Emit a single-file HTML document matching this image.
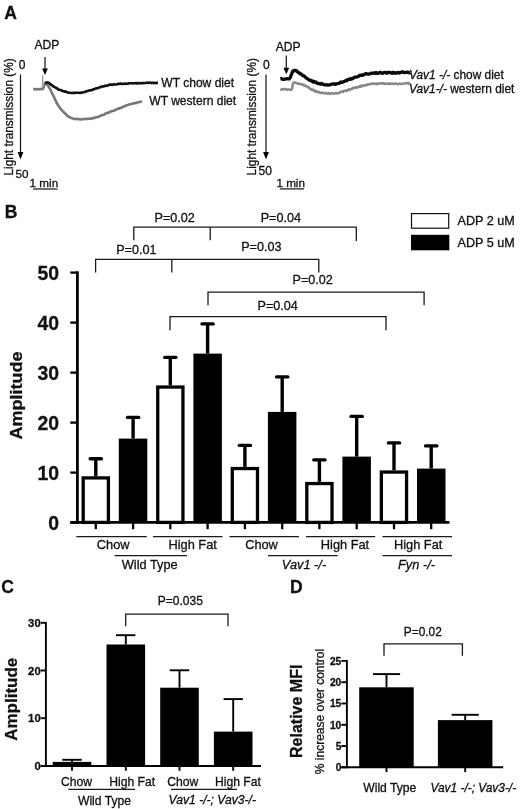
<!DOCTYPE html>
<html lang="en">
<head>
<meta charset="utf-8">
<title>Figure</title>
<style>
html,body{margin:0;padding:0;background:#fff}
body{width:520px;height:809px;overflow:hidden}
svg{display:block;filter:blur(0.35px);font-family:"Liberation Sans",sans-serif;fill:#111}
.pl{font-weight:bold;font-size:17.5px}
.ta,.tb,.tc,.td,.tp,.tx{stroke:#111;stroke-width:0.3px}
.ta{font-size:12.05px}
.tl{font-size:11.87px;stroke:#111;stroke-width:0.3px}
.tm{font-size:11.7px;stroke:#111;stroke-width:0.3px}
.tb{font-size:11.9px}
.tc{font-size:12.15px}
.td{font-size:12px}
.tp{font-size:12.6px}
.tx{font-size:12.8px}
.i{font-style:italic}
.k{fill:#000}
.l1{stroke:#1a1a1a;stroke-width:1.25;fill:none}
.br{stroke:#1a1a1a;stroke-width:1.3;fill:none}
.ax{stroke:#000;stroke-width:2.8;fill:none}
.tkb{stroke:#000;stroke-width:2.3;fill:none}
.eb{stroke:#000;stroke-width:3.4;fill:none}
.ec{stroke:#000;stroke-width:3.4;fill:none;stroke-linecap:round}
.ax2{stroke:#000;stroke-width:1.9;fill:none}
.wb{fill:#fff;stroke:#000;stroke-width:3.3}
.sp{stroke:#999;stroke-width:1;fill:none}
.tg{stroke:#777;stroke-width:2.6;fill:none;stroke-linejoin:round}
.tg2{stroke:#888;stroke-width:2.5;fill:none;stroke-linejoin:round}
.tk{stroke:#111;stroke-width:2.6;fill:none;stroke-linejoin:round}
.tk2{stroke:#0a0a0a;stroke-width:3.3;fill:none;stroke-linejoin:round}
.bt,.bl,.ct,.cl,.dt,.dl,.pl{stroke:#111;stroke-width:0.3px}
.bt{font-weight:bold;font-size:19.4px}
.bl{font-weight:bold;font-size:18px}
.ct{font-weight:bold;font-size:11.3px}
.cl{font-weight:bold;font-size:17px}
.dt{font-weight:bold;font-size:10.2px}
.dl{font-weight:bold;font-size:16px}
</style>
</head>
<body>
<svg width="520" height="809" viewBox="0 0 520 809">
<rect width="520" height="809" fill="#fff"/>
<g>
<text class="pl" x="4.3" y="19">A</text>
<text x="34.5" y="49.3" class="ta">ADP</text>
<line x1="45" y1="57" x2="45" y2="70" class="l1"/><path d="M42.1 68.6 L45 75 L47.9 68.6 Z" class="k"/>
<text x="18.8" y="69.3" class="ta">0</text>
<line x1="20.5" y1="74.5" x2="20.5" y2="155" class="l1"/><path d="M17.6 152 L20.5 159.5 L23.4 152 Z" class="k"/>
<text x="15.6" y="177.5" class="tm">50</text>
<text class="tl" transform="translate(13.1 175.6) rotate(-90)">Light transmission (%)</text>
<text x="29.6" y="186.9" class="tm">1 min</text>
<line x1="33" y1="189" x2="57.5" y2="189" class="l1"/>
<polyline points="33.3,89.3 34.2,89.1 35.4,89.5 36.8,89.0 38.0,89.3 39.1,89.2 40.2,89.0 41.2,89.3 42.0,88.9 42.8,89.0 43.3,88.2 43.6,87.2 44.0,86.1 44.3,85.2 44.9,83.6 45.5,83.1 46.0,83.1 47.0,84.3 47.3,84.5 47.7,85.0 48.1,86.1 48.5,86.2 49.0,87.6 49.5,88.1 50.0,88.9 50.5,89.8 51.0,90.9 51.5,92.3 52.0,92.8 52.4,93.8 52.8,94.7 53.2,95.3 53.6,96.3 54.0,96.9 54.4,97.8 54.9,98.8 55.3,100.1 55.7,100.8 56.2,101.6 56.6,102.7 57.1,103.4 57.5,104.1 58.0,105.2 58.6,106.0 59.1,106.5 59.7,107.5 60.3,108.3 60.9,109.3 61.5,109.9 62.1,110.3 62.7,111.4 63.3,111.5 63.9,112.3 64.4,113.1 65.0,113.3 65.7,114.2 66.4,114.5 67.1,115.5 67.7,116.1 68.4,116.4 69.0,117.0 69.7,117.0 70.3,117.6 71.0,117.9 72.0,118.2 72.9,118.4 73.9,118.9 74.9,119.1 75.9,118.9 77.0,119.1 77.9,118.8 78.9,119.3 79.9,119.3 80.9,119.5 82.0,119.4 83.0,119.0 84.0,119.0 85.0,119.2 86.0,118.7 87.0,119.0 88.0,118.8 89.0,118.7 90.0,118.5 91.0,118.9 92.0,118.2 92.8,118.1 93.7,118.0 94.5,118.1 95.4,117.3 96.3,117.3 97.1,117.0 98.1,117.0 99.0,116.6 100.0,116.3 100.8,115.6 101.6,115.4 102.4,115.0 103.2,115.0 104.0,114.8 104.9,113.8 105.7,113.5 106.6,113.2 107.5,112.8 108.3,112.7 109.2,112.4 110.0,111.8 110.8,111.3 111.7,111.3 112.5,110.9 113.3,110.7 114.2,110.6 115.0,110.1 115.8,109.6 116.7,109.4 117.5,109.1 118.3,108.3 119.2,108.6 120.0,108.2 120.8,107.9 121.7,107.6 122.5,107.0 123.4,106.7 124.3,106.2 125.1,106.2 126.0,105.5 126.8,105.2 127.6,105.1 128.4,104.8 129.2,104.6 130.0,104.2 131.0,103.9 132.0,103.7 133.0,103.4 133.9,103.4 134.8,102.9 135.7,103.3 136.5,102.9 137.3,102.4 138.0,102.3 139.4,102.1 140.5,101.8 141.4,101.5 142.0,101.6" class="tg"/>
<polyline points="42.2,88.5 42.7,75.3 43.2,87" class="sp"/>
<polyline points="45.2,83.8 45.8,83.3 46.5,82.4 47.2,82.4 48.0,82.5 48.7,82.9 50.0,83.9 50.6,84.2 51.2,85.1 51.9,85.1 52.7,85.6 53.5,86.8 54.3,87.0 55.2,87.3 56.0,88.0 56.7,88.1 57.5,88.8 58.3,89.5 59.0,89.7 59.8,90.0 60.6,90.0 61.4,90.4 62.2,90.5 63.0,91.2 63.9,91.3 64.8,91.7 65.6,91.6 66.5,91.8 67.4,92.4 68.2,92.7 69.1,92.7 70.0,92.8 71.0,93.0 72.0,93.0 73.0,92.7 74.0,93.0 75.0,92.9 76.0,92.7 77.0,92.7 78.0,92.8 79.0,92.7 79.9,92.9 80.9,92.9 81.9,92.4 82.9,92.5 84.0,92.3 84.8,92.1 85.7,91.5 86.6,91.2 87.5,90.9 88.4,90.7 89.3,90.4 90.2,90.4 91.1,90.3 92.0,90.0 92.9,89.5 93.8,89.3 94.7,89.2 95.6,88.3 96.4,88.4 97.3,88.3 98.2,87.9 99.1,87.6 100.0,87.2 100.9,86.7 101.8,86.9 102.7,86.3 103.6,86.4 104.4,86.3 105.3,85.7 106.2,85.5 107.1,85.7 108.0,85.4 109.0,84.8 110.0,84.6 111.0,84.5 111.9,84.9 112.9,84.7 113.9,84.2 115.0,84.5 116.0,84.5 117.0,84.2 117.9,83.9 118.9,84.0 119.9,83.6 120.9,83.5 121.9,84.1 122.9,83.8 124.0,83.7 125.0,83.9 126.0,83.5 126.9,83.8 127.9,83.7 128.9,83.3 129.9,83.3 131.0,83.3 132.0,83.2 133.0,83.4 134.0,83.2 135.0,83.2 136.0,83.0 137.0,83.5 137.9,83.1 138.9,83.1 139.8,83.2 140.8,83.4 141.8,83.0 142.8,83.3 143.9,83.0 145.0,83.0 145.9,83.0 147.0,82.6 148.1,82.9 149.2,82.7 150.4,82.6 151.5,83.1 152.7,82.7 153.8,82.9 154.9,83.1 155.8,83.0 156.7,82.8 157.4,82.9 158.0,82.9" class="tk"/>
<text x="161.3" y="86.8" class="ta">WT chow diet</text>
<text x="149.3" y="105.1" class="ta">WT western diet</text>
<text x="275.8" y="50.5" class="ta">ADP</text>
<line x1="286.3" y1="55.5" x2="286.3" y2="69" class="l1"/><path d="M283.4 67.8 L286.3 74.2 L289.2 67.8 Z" class="k"/>
<text x="263" y="69.3" class="ta">0</text>
<line x1="266" y1="74.5" x2="266" y2="155" class="l1"/><path d="M263.1 152 L266 159.5 L268.9 152 Z" class="k"/>
<text x="258.6" y="174.5" class="ta">50</text>
<text class="tl" transform="translate(256.3 175.4) rotate(-90)">Light transmission (%)</text>
<text x="276.4" y="186.6" class="tm">1 min</text>
<line x1="279.9" y1="188.9" x2="304" y2="188.9" class="l1"/>
<polyline points="280.3,89.5 281.1,89.7 282.2,88.9 283.5,89.5 284.8,89.1 286.0,89.1 287.2,89.8 288.4,89.5 289.5,89.6 290.5,89.9 291.3,89.9 292.1,88.4 292.3,87.1 292.6,85.6 292.9,84.0 293.3,83.0 294.2,82.4 295.5,82.8 296.6,82.9 297.7,83.7 299.0,83.6 299.9,84.1 300.9,84.4 301.9,83.9 303.0,84.7 303.6,85.4 304.3,85.7 304.9,85.2 305.6,85.7 306.3,86.5 307.1,86.5 308.0,87.2 308.7,87.3 309.4,88.4 310.2,88.9 311.0,89.5 311.8,89.0 312.7,90.1 313.5,90.4 314.4,90.1 315.2,91.4 316.0,91.8 316.9,91.2 317.8,92.3 318.7,91.9 319.6,92.3 320.4,93.1 321.3,93.1 322.2,92.5 323.1,93.0 324.0,93.2 325.0,93.2 326.0,93.1 327.0,93.4 328.0,93.9 329.0,93.1 330.0,93.8 331.0,93.7 332.0,93.1 333.0,93.4 334.0,93.7 335.0,93.4 336.0,92.7 337.0,93.6 338.0,93.2 339.0,93.2 340.0,91.9 340.9,91.9 341.8,91.4 342.7,92.0 343.6,91.1 344.4,90.7 345.3,90.8 346.2,91.1 347.1,90.7 348.0,89.7 348.9,89.3 349.8,89.9 350.7,89.2 351.6,89.1 352.4,88.1 353.3,87.8 354.2,88.2 355.1,87.7 356.0,87.0 356.9,87.8 357.8,87.2 358.7,87.1 359.6,86.0 360.4,86.7 361.3,85.6 362.2,86.3 363.1,85.6 364.0,85.3 365.0,85.4 366.0,85.6 367.0,84.6 368.0,84.3 369.0,84.6 370.0,84.1 371.0,83.8 372.0,83.8 373.0,83.6 373.8,83.7 374.7,83.7 375.6,83.7 376.5,84.2 377.5,83.6 378.7,83.8 380.0,83.4 380.8,83.6 381.6,83.2 382.6,83.5 383.5,83.2 384.5,84.0 385.5,83.8 386.5,83.4 387.6,83.7 388.7,84.2 389.7,83.2 390.8,84.1 391.9,83.6 392.9,83.7 394.0,84.1 395.0,83.6 396.0,83.7 397.1,83.9 398.2,84.3 399.4,83.5 400.6,84.1 401.7,83.9 402.9,83.8 404.0,83.5 405.1,83.4 406.1,83.1 407.1,83.2 408.0,83.1 408.8,83.9 409.4,83.3 410.0,83.6" class="tg2"/>
<polyline points="280.3,78.6 281.2,78.5 282.6,79.4 284.0,79.4 285.0,79.2 286.1,78.8 287.1,78.7 288.0,78.8 289.2,78.9 290.0,77.9 290.4,77.3 290.8,75.8 291.2,75.2 291.6,74.1 292.1,72.6 292.6,71.4 293.1,71.6 293.7,70.4 294.9,70.4 296.5,70.7 297.1,71.5 297.8,72.1 298.5,72.7 299.3,72.9 300.1,73.9 301.0,73.9 301.6,74.6 302.2,74.8 302.9,75.7 303.6,75.7 304.3,76.2 305.0,77.0 305.7,77.4 306.5,78.2 307.2,78.6 308.0,79.3 308.8,79.6 309.5,80.1 310.3,80.6 311.1,80.4 311.9,80.7 312.8,81.9 313.6,81.2 314.4,82.2 315.2,82.4 316.0,82.0 316.9,83.2 317.8,83.5 318.7,83.4 319.6,83.8 320.4,84.1 321.3,83.4 322.2,84.1 323.1,84.2 324.0,84.7 325.0,84.8 326.0,84.9 327.0,84.7 328.0,85.1 329.0,84.9 330.0,84.9 331.0,84.3 332.0,84.0 332.9,84.1 333.8,84.2 334.7,83.7 335.6,84.4 336.4,83.9 337.3,83.7 338.2,83.5 339.1,83.3 340.0,82.8 340.9,81.9 341.8,82.6 342.7,82.2 343.6,81.6 344.4,81.4 345.3,81.2 346.2,80.1 347.1,80.6 348.0,79.7 348.8,79.2 349.6,79.1 350.4,79.4 351.2,78.4 352.0,78.8 352.8,78.7 353.6,77.8 354.4,77.4 355.2,77.2 356.0,77.2 356.9,77.0 357.8,76.6 358.7,76.3 359.6,75.4 360.4,75.2 361.3,75.1 362.2,75.4 363.1,74.7 364.0,74.8 365.0,73.9 366.0,73.7 367.0,73.8 368.0,74.1 369.0,74.0 370.0,73.8 371.0,73.2 372.0,73.3 373.0,73.1 373.8,73.1 374.7,72.6 375.6,73.4 376.5,72.6 377.5,73.4 378.7,73.4 380.0,72.2 380.8,72.7 381.6,73.2 382.6,73.3 383.5,72.7 384.5,72.5 385.5,72.4 386.5,73.3 387.6,72.4 388.7,72.8 389.7,72.3 390.8,72.8 391.9,73.3 392.9,72.3 394.0,73.1 395.0,72.7 396.0,73.2 397.1,72.9 398.2,72.3 399.4,73.1 400.6,72.6 401.7,72.0 402.9,72.0 404.0,72.6 405.1,72.5 406.1,72.3 407.1,72.1 408.0,72.3 408.8,72.3 409.4,72.9 410.0,72.5" class="tk2"/>
<text x="409" y="78.7" class="tb"><tspan class="i">Vav1 -/-</tspan> chow diet</text>
<text x="409" y="92.6" class="tb"><tspan class="i">Vav1-/-</tspan> western diet</text>
</g>
<g>
<text class="pl" x="4.8" y="218.3">B</text>
<line x1="77.4" y1="271.3" x2="77.4" y2="523.8" class="ax"/>
<line x1="70.3" y1="522.4" x2="449.5" y2="522.4" class="ax"/>
<line x1="70.3" y1="522.6" x2="77.4" y2="522.6" class="tkb"/>
<text x="59" y="530.0" class="bt" text-anchor="end">0</text>
<line x1="70.3" y1="472.6" x2="77.4" y2="472.6" class="tkb"/>
<text x="59" y="480.0" class="bt" text-anchor="end">10</text>
<line x1="70.3" y1="422.6" x2="77.4" y2="422.6" class="tkb"/>
<text x="59" y="430.0" class="bt" text-anchor="end">20</text>
<line x1="70.3" y1="372.6" x2="77.4" y2="372.6" class="tkb"/>
<text x="59" y="380.0" class="bt" text-anchor="end">30</text>
<line x1="70.3" y1="322.6" x2="77.4" y2="322.6" class="tkb"/>
<text x="59" y="330.0" class="bt" text-anchor="end">40</text>
<line x1="70.3" y1="272.6" x2="77.4" y2="272.6" class="tkb"/>
<text x="59" y="280.0" class="bt" text-anchor="end">50</text>
<text class="bl" transform="translate(22 395.5) rotate(-90) scale(1 0.94)" text-anchor="middle">Amplitude</text>
<line x1="95.8" y1="476.2" x2="95.8" y2="458.8" class="eb"/>
<line x1="90.2" y1="458.8" x2="101.4" y2="458.8" class="ec"/>
<rect x="83.20" y="477.90" width="25.20" height="44.50" class="wb"/>
<line x1="95.8" y1="522.4" x2="95.8" y2="529.2" class="tkb"/>
<line x1="133.1" y1="438.6" x2="133.1" y2="417.4" class="eb"/>
<line x1="127.5" y1="417.4" x2="138.7" y2="417.4" class="ec"/>
<rect x="118.8" y="438.6" width="28.5" height="83.8" class="k"/>
<line x1="133.1" y1="522.4" x2="133.1" y2="529.2" class="tkb"/>
<line x1="170.3" y1="385.4" x2="170.3" y2="357.4" class="eb"/>
<line x1="164.7" y1="357.4" x2="175.9" y2="357.4" class="ec"/>
<rect x="157.74" y="387.05" width="25.20" height="135.35" class="wb"/>
<line x1="170.3" y1="522.4" x2="170.3" y2="529.2" class="tkb"/>
<line x1="207.6" y1="353.6" x2="207.6" y2="323.9" class="eb"/>
<line x1="202.0" y1="323.9" x2="213.2" y2="323.9" class="ec"/>
<rect x="193.4" y="353.6" width="28.5" height="168.8" class="k"/>
<line x1="207.6" y1="522.4" x2="207.6" y2="529.2" class="tkb"/>
<line x1="244.9" y1="466.9" x2="244.9" y2="445.4" class="eb"/>
<line x1="239.3" y1="445.4" x2="250.5" y2="445.4" class="ec"/>
<rect x="232.28" y="468.55" width="25.20" height="53.85" class="wb"/>
<line x1="244.9" y1="522.4" x2="244.9" y2="529.2" class="tkb"/>
<line x1="282.2" y1="411.9" x2="282.2" y2="376.9" class="eb"/>
<line x1="276.6" y1="376.9" x2="287.8" y2="376.9" class="ec"/>
<rect x="267.9" y="411.9" width="28.5" height="110.5" class="k"/>
<line x1="282.2" y1="522.4" x2="282.2" y2="529.2" class="tkb"/>
<line x1="319.4" y1="481.9" x2="319.4" y2="459.9" class="eb"/>
<line x1="313.8" y1="459.9" x2="325.0" y2="459.9" class="ec"/>
<rect x="306.82" y="483.55" width="25.20" height="38.85" class="wb"/>
<line x1="319.4" y1="522.4" x2="319.4" y2="529.2" class="tkb"/>
<line x1="356.7" y1="456.6" x2="356.7" y2="416.4" class="eb"/>
<line x1="351.1" y1="416.4" x2="362.3" y2="416.4" class="ec"/>
<rect x="342.4" y="456.6" width="28.5" height="65.8" class="k"/>
<line x1="356.7" y1="522.4" x2="356.7" y2="529.2" class="tkb"/>
<line x1="394.0" y1="470.4" x2="394.0" y2="442.9" class="eb"/>
<line x1="388.4" y1="442.9" x2="399.6" y2="442.9" class="ec"/>
<rect x="381.36" y="472.05" width="25.20" height="50.35" class="wb"/>
<line x1="394.0" y1="522.4" x2="394.0" y2="529.2" class="tkb"/>
<line x1="431.2" y1="468.6" x2="431.2" y2="445.9" class="eb"/>
<line x1="425.6" y1="445.9" x2="436.8" y2="445.9" class="ec"/>
<rect x="417.0" y="468.6" width="28.5" height="53.8" class="k"/>
<line x1="431.2" y1="522.4" x2="431.2" y2="529.2" class="tkb"/>
<line x1="76.3" y1="536.6" x2="146.8" y2="536.6" class="l1"/>
<line x1="153.0" y1="536.6" x2="222.5" y2="536.6" class="l1"/>
<line x1="229.5" y1="536.6" x2="299.0" y2="536.6" class="l1"/>
<line x1="306.0" y1="536.6" x2="375.2" y2="536.6" class="l1"/>
<line x1="382.5" y1="536.6" x2="452.0" y2="536.6" class="l1"/>
<text x="113.2" y="548.9" class="tx" text-anchor="middle">Chow</text>
<text x="192.7" y="548.9" class="tx" text-anchor="middle">High Fat</text>
<text x="261.5" y="548.9" class="tx" text-anchor="middle">Chow</text>
<text x="345.0" y="548.9" class="tx" text-anchor="middle">High Fat</text>
<text x="418.2" y="548.9" class="tx" text-anchor="middle">High Fat</text>
<line x1="114.5" y1="555.6" x2="187.0" y2="555.6" class="l1"/>
<line x1="268.0" y1="555.6" x2="337.7" y2="555.6" class="l1"/>
<line x1="382.5" y1="555.6" x2="452.0" y2="555.6" class="l1"/>
<text x="149.7" y="569.3" class="tx" text-anchor="middle">Wild Type</text>
<text x="304" y="569.3" class="tx i" text-anchor="middle">Vav1 -/-</text>
<text x="416.5" y="569.3" class="tx i" text-anchor="middle">Fyn -/-</text>
<path d="M133.8 240.3 V227.2 H356.3 V241 M210.2 227.2 V240.3" class="br"/>
<text x="154.5" y="221.7" class="tp">P=0.02</text>
<text x="260.7" y="221.7" class="tp">P=0.04</text>
<path d="M95.6 272.6 V259.3 H318.8 V272.4 M171.8 259.3 V272.6" class="br"/>
<text x="116.2" y="253.7" class="tp">P=0.01</text>
<text x="241.2" y="251.4" class="tp">P=0.03</text>
<path d="M208 305.3 V292.1 H424.1 V305.3" class="br"/>
<text x="292.5" y="284.4" class="tp">P=0.02</text>
<path d="M170 330.3 V316.7 H386 V330.3" class="br"/>
<text x="257.6" y="310.4" class="tp">P=0.04</text>
<rect x="411.5" y="213.6" width="37.2" height="14.6" fill="#fff" stroke="#111" stroke-width="1.2"/>
<rect x="411" y="234.8" width="38.3" height="15.5" class="k"/>
<text x="457.6" y="225.4" class="tp">ADP 2 uM</text>
<text x="457.6" y="247.3" class="tp">ADP 5 uM</text>
</g>
<g>
<text class="pl" x="1.2" y="592.7">C</text>
<line x1="45.9" y1="621.9" x2="45.9" y2="766.9" class="ax2"/>
<line x1="40.8" y1="766.0" x2="261" y2="766.0" class="ax2"/>
<line x1="40.8" y1="766.0" x2="45.9" y2="766.0" class="ax2"/>
<text x="40.7" y="770.0" class="ct" text-anchor="end">0</text>
<line x1="40.8" y1="718.2" x2="45.9" y2="718.2" class="ax2"/>
<text x="40.7" y="722.2" class="ct" text-anchor="end">10</text>
<line x1="40.8" y1="670.5" x2="45.9" y2="670.5" class="ax2"/>
<text x="40.7" y="674.5" class="ct" text-anchor="end">20</text>
<line x1="40.8" y1="622.8" x2="45.9" y2="622.8" class="ax2"/>
<text x="40.7" y="626.8" class="ct" text-anchor="end">30</text>
<text class="cl" transform="translate(16.7 699.3) rotate(-90)" text-anchor="middle">Amplitude</text>
<line x1="72.0" y1="761.9" x2="72.0" y2="759.8" class="ax2"/>
<line x1="62.3" y1="759.8" x2="81.7" y2="759.8" class="ax2"/>
<rect x="52.7" y="761.9" width="38.6" height="4.1" class="k"/>
<line x1="72.0" y1="766.0" x2="72.0" y2="770.8" class="ax2"/>
<line x1="125.8" y1="644.5" x2="125.8" y2="635.2" class="ax2"/>
<line x1="116.0" y1="635.2" x2="135.4" y2="635.2" class="ax2"/>
<rect x="106.5" y="644.5" width="38.6" height="121.5" class="k"/>
<line x1="125.8" y1="766.0" x2="125.8" y2="770.8" class="ax2"/>
<line x1="179.5" y1="687.7" x2="179.5" y2="670.3" class="ax2"/>
<line x1="169.8" y1="670.3" x2="189.2" y2="670.3" class="ax2"/>
<rect x="160.2" y="687.7" width="38.6" height="78.3" class="k"/>
<line x1="179.5" y1="766.0" x2="179.5" y2="770.8" class="ax2"/>
<line x1="233.2" y1="731.6" x2="233.2" y2="699.1" class="ax2"/>
<line x1="223.6" y1="699.1" x2="242.9" y2="699.1" class="ax2"/>
<rect x="213.9" y="731.6" width="38.6" height="34.4" class="k"/>
<line x1="233.2" y1="766.0" x2="233.2" y2="770.8" class="ax2"/>
<text x="76.6" y="785.8" class="tc" text-anchor="middle">Chow</text>
<text x="132.2" y="785.8" class="tc" text-anchor="middle">High Fat</text>
<text x="182.8" y="785.8" class="tc" text-anchor="middle">Chow</text>
<text x="237.9" y="785.8" class="tc" text-anchor="middle">High Fat</text>
<line x1="68.5" y1="789.3" x2="135" y2="789.3" class="l1"/>
<line x1="171" y1="789.3" x2="237" y2="789.3" class="l1"/>
<text x="104.5" y="805.3" class="tc" text-anchor="middle">Wild Type</text>
<text x="212.3" y="804.3" class="tc i" text-anchor="middle">Vav1 -/-; Vav3-/-</text>
<path d="M125.7 626.3 V614.2 H228 V626.3" class="br"/>
<text x="157.8" y="604.9" class="td">P=0.035</text>
</g>
<g>
<text class="pl" x="290" y="592.7">D</text>
<line x1="346.9" y1="660.0" x2="346.9" y2="768.2" class="ax2"/>
<line x1="341.3" y1="767.3" x2="503.2" y2="767.3" class="ax2"/>
<line x1="341.3" y1="767.3" x2="346.9" y2="767.3" class="ax2"/>
<text x="341.3" y="771.0" class="dt" text-anchor="end">0</text>
<line x1="341.3" y1="746.0" x2="346.9" y2="746.0" class="ax2"/>
<text x="341.3" y="749.7" class="dt" text-anchor="end">5</text>
<line x1="341.3" y1="724.8" x2="346.9" y2="724.8" class="ax2"/>
<text x="341.3" y="728.5" class="dt" text-anchor="end">10</text>
<line x1="341.3" y1="703.5" x2="346.9" y2="703.5" class="ax2"/>
<text x="341.3" y="707.2" class="dt" text-anchor="end">15</text>
<line x1="341.3" y1="682.2" x2="346.9" y2="682.2" class="ax2"/>
<text x="341.3" y="685.9" class="dt" text-anchor="end">20</text>
<line x1="341.3" y1="660.9" x2="346.9" y2="660.9" class="ax2"/>
<text x="341.3" y="664.6" class="dt" text-anchor="end">25</text>
<text class="dl" transform="translate(301.7 711.3) rotate(-90)" text-anchor="middle">Relative MFI</text>
<text class="td" transform="translate(324.2 711.5) rotate(-90)" text-anchor="middle">% increase over control</text>
<line x1="386.5" y1="687.3" x2="386.5" y2="674.1" class="ax2"/>
<line x1="372.9" y1="674.1" x2="400.1" y2="674.1" class="ax2"/>
<rect x="359.2" y="687.3" width="54.5" height="80.0" class="k"/>
<line x1="386.5" y1="767.3" x2="386.5" y2="772.1" class="ax2"/>
<line x1="465.2" y1="720.1" x2="465.2" y2="714.8" class="ax2"/>
<line x1="451.6" y1="714.8" x2="478.8" y2="714.8" class="ax2"/>
<rect x="437.9" y="720.1" width="54.5" height="47.2" class="k"/>
<line x1="465.2" y1="767.3" x2="465.2" y2="772.1" class="ax2"/>
<text x="389.8" y="791.6" class="tc" text-anchor="middle">Wild Type</text>
<text x="473.3" y="791.5" class="tb i" text-anchor="middle">Vav1 -/-; Vav3-/-</text>
<path d="M384 655.8 V643.8 H462.4 V655.8" class="br"/>
<text x="403.8" y="636.3" class="tb">P=0.02</text>
</g>
</svg>
</body>
</html>
